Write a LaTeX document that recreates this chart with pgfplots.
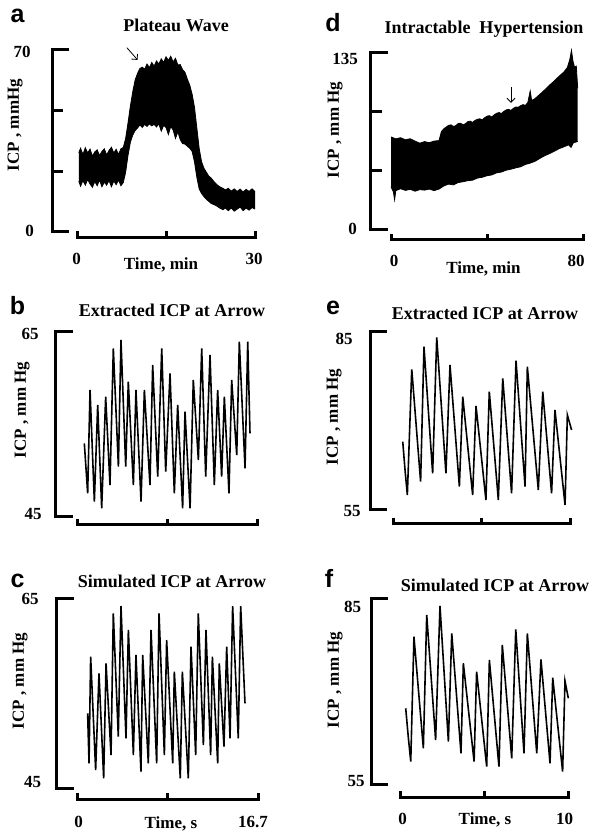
\documentclass[border=0pt]{standalone}
\usepackage{fontspec}
\setmainfont{Liberation Serif}
\newfontfamily\sansfont{Liberation Sans}
\usepackage{pgfplots}
\usepackage{pgfplotstable}
\pgfplotsset{compat=1.18}
\usepgfplotslibrary{fillbetween}
\usetikzlibrary{arrows.meta}

\newcommand{\tf}{\fontsize{17}{19}\selectfont\bfseries}
\newcommand{\ttl}{\fontsize{18}{20}\selectfont\bfseries}
\newcommand{\lf}{\fontsize{25}{27}\selectfont\sansfont\bfseries}

% #1 xmin #2 xmid #3 xmax #4 ymin #5 ymax #6 y-line shift #7 y-tick end #8 x-line shift #9 x-tick end
\newcommand{\brackets}[9]{%
  \draw[axln] ([xshift=#7]axis cs:#1,#5) -- ([xshift=#6]axis cs:#1,#5)
     -- ([xshift=#6]axis cs:#1,#4) -- ([xshift=#7]axis cs:#1,#4);
  \draw[axln] ([yshift=#9]axis cs:#1,#4) -- ([yshift=#8]axis cs:#1,#4)
     -- ([yshift=#8]axis cs:#3,#4) -- ([yshift=#9]axis cs:#3,#4);
  \draw[axln] ([yshift=#8]axis cs:#2,#4) -- ([yshift=#9]axis cs:#2,#4);
}

% plateau wave envelopes (min, mmHg)
\pgfplotstableread{
t v
0.3 30.5
0.6 32.2
1.0 29.8
1.4 32.4
1.8 30.4
2.2 31.9
2.6 29.2
3.0 30.8
3.4 31.6
3.8 29.4
4.2 31.0
4.6 32.0
5.0 29.6
5.4 31.4
5.8 32.6
6.2 30.4
6.6 31.8
7.0 29.8
7.4 32.0
7.8 32.5
8.2 36.0
8.6 42.0
9.0 48.5
9.4 54.0
9.8 58.5
10.2 61.0
10.6 62.9
11.0 63.4
11.4 62.6
11.8 64.6
12.2 63.2
12.6 65.2
13.0 63.8
13.4 65.8
13.8 64.6
14.2 66.6
14.6 65.2
15.0 67.4
15.4 66.0
15.8 67.6
16.2 65.4
16.6 66.8
17.0 64.2
17.4 64.4
17.8 62.4
18.2 61.4
18.6 58.8
19.0 56.5
19.4 53.0
19.8 48.0
20.2 40.0
20.6 32.0
21.0 27.0
21.4 24.5
21.8 23.0
22.2 21.5
22.6 20.8
23.0 19.6
23.4 18.6
23.8 17.8
24.2 17.2
24.6 16.8
25.0 16.2
25.5 16.8
26.0 15.7
26.5 16.6
27.0 15.6
27.5 16.5
28.0 15.4
28.5 16.4
29.0 15.6
29.5 16.6
30.0 15.5
}\aup
\pgfplotstableread{
t v
0.3 19.5
0.6 17.6
1.0 19.8
1.4 18.0
1.8 20.2
2.2 18.4
2.6 17.2
3.0 19.4
3.4 17.8
3.8 20.0
4.2 17.4
4.6 19.2
5.0 18.0
5.4 19.8
5.8 17.4
6.2 19.6
6.6 18.2
7.0 20.0
7.4 17.8
7.8 19.0
8.2 23.0
8.6 29.5
9.0 34.5
9.4 37.3
9.8 39.0
10.2 40.0
10.6 41.2
11.0 40.2
11.4 41.4
11.8 40.6
12.2 41.6
12.6 40.8
13.0 41.4
13.4 40.4
13.8 41.6
14.2 38.8
14.6 41.0
15.0 40.2
15.4 37.5
15.8 40.6
16.2 39.2
16.6 36.0
17.0 38.5
17.4 35.5
17.8 34.0
18.2 33.8
18.6 33.0
19.0 32.2
19.4 31.0
19.8 27.0
20.2 21.0
20.6 16.5
21.0 14.8
21.4 13.6
21.8 12.6
22.2 11.8
22.6 11.0
23.0 10.6
23.4 10.2
23.8 9.6
24.2 9.0
24.6 8.6
25.0 9.2
25.5 8.2
26.0 9.2
26.5 8.0
27.0 8.8
27.5 9.6
28.0 8.2
28.5 9.2
29.0 8.4
29.5 9.4
30.0 8.8
}\alo

% intractable hypertension envelopes (min, mmHg)
\pgfplotstableread{
t v
0 71.0
2 69.5
4 70.4
6 68.8
8 69.6
10 67.8
12 66.2
14 67.4
16 66.6
18 67.8
20 68.2
21 75.0
22 77.2
23 78.5
24 79.8
25 80.2
26 78.9
27 79.6
28 81.2
29 81.4
30 80.2
31 81.0
32 82.6
33 83.0
34 82.0
35 83.6
36 84.4
37 84.8
38 84.0
39 85.6
40 86.8
41 87.2
42 86.2
43 87.8
44 89.0
45 89.6
46 88.8
47 90.4
48 91.6
49 92.0
50 91.2
51 92.8
52 93.8
53 93.6
54 94.8
55 95.6
56 95.0
57 97.2
58 106.0
58.6 98.8
60 100.2
62 103.4
64 106.8
66 110.4
68 113.6
70 117.2
72 120.4
73.5 124.0
74.5 130.0
75.2 137.0
75.8 129.0
76.5 124.0
77.2 125.0
77.8 108.0
}\dup
\pgfplotstableread{
t v
0 33.0
1 29.0
1.5 23.0
2 30.0
4 31.5
6 30.2
8 31.0
10 29.6
12 30.8
14 30.4
16 31.2
18 30.0
20 31.2
22 33.6
24 35.0
26 34.4
28 36.2
30 36.8
32 37.6
34 38.0
36 39.6
38 40.2
40 41.4
42 42.0
44 43.6
46 44.2
48 45.6
50 46.4
52 47.4
54 48.2
56 50.0
58 51.0
60 52.4
62 54.6
64 56.6
66 58.2
68 60.0
70 62.0
72 63.4
74 65.0
75 63.0
76 66.5
77.8 67.5
}\dlo

% extracted / simulated ICP (s, mmHg)
\pgfplotstableread{
t v
0.68 52.96
0.99 47.56
1.21 58.73
1.61 46.66
1.92 57.11
2.29 45.94
2.66 58.01
3.06 48.46
3.37 63.23
3.84 50.44
4.08 64.14
4.52 50.44
4.76 59.63
5.23 48.46
5.47 58.73
5.94 46.66
6.25 58.73
6.77 48.46
7.02 61.43
7.49 49.36
7.86 63.23
8.23 49.90
8.63 60.53
9.03 47.56
9.34 57.11
9.80 45.94
10.02 56.39
10.49 45.94
10.79 59.81
11.26 51.16
11.57 63.23
11.94 49.36
12.34 62.51
12.74 48.46
13.05 58.73
13.42 49.36
13.67 58.01
14.10 47.56
14.35 59.81
14.82 51.70
15.06 63.96
15.59 50.26
15.84 63.96
16.05 54.05
}\bdat
\pgfplotstableread{
t v
0.98 52.97
1.11 47.70
1.26 58.93
1.72 47.00
2.03 57.18
2.46 46.12
2.68 58.23
3.14 48.58
3.35 63.49
3.81 50.51
4.06 64.26
4.52 50.33
4.74 61.74
5.20 48.58
5.44 59.11
5.90 46.82
6.06 59.11
6.58 47.70
6.83 61.74
7.35 47.70
7.57 63.49
8.06 48.58
8.27 60.68
8.83 47.70
8.98 57.35
9.53 46.12
9.72 57.35
10.27 46.12
10.52 59.98
10.95 48.58
11.19 63.49
11.66 49.63
11.90 61.74
12.33 48.58
12.49 58.93
12.98 47.70
13.13 58.23
13.56 49.46
13.81 59.98
14.12 50.33
14.36 64.26
14.88 50.33
15.10 64.26
15.50 54.02
}\cdat
\pgfplotstableread{
t v
0.55 66.52
0.68 61.74
0.81 57.53
1.06 78.71
1.56 59.78
1.75 82.53
2.24 61.18
2.47 84.10
2.99 61.18
3.22 79.44
3.75 58.94
3.94 74.10
4.50 57.53
4.69 72.53
5.25 56.69
5.44 74.95
5.95 56.69
6.20 77.19
6.70 57.81
6.95 80.17
7.46 58.94
7.59 79.16
8.21 58.37
8.46 74.95
8.96 57.81
9.15 71.86
9.72 55.85
9.85 71.01
10.09 68.49
}\edat
\pgfplotstableread{
t v
0.34 67.37
0.50 62.53
0.64 58.77
0.83 78.93
1.39 60.92
1.59 82.42
2.12 62.26
2.38 83.87
2.88 61.99
3.08 79.46
3.63 60.11
3.77 74.63
4.41 58.77
4.56 73.28
5.16 57.96
5.32 75.16
5.89 57.96
6.09 77.58
6.65 59.30
6.89 80.11
7.38 60.11
7.58 79.46
8.14 60.11
8.39 75.27
8.93 58.50
9.09 72.31
9.68 57.15
9.82 71.78
10.02 68.98
}\fdat

\begin{document}
\begin{tikzpicture}[axln/.style={line width=3pt, line join=miter}]
\pgfplotsset{panel/.style={hide axis, scale only axis, clip=false, anchor=south west},
  wave/.style={black, line width=1.6pt}}

% a
\begin{axis}[panel, at={(77pt,600pt)}, width=178pt, height=182pt,
  xmin=0, xmax=30, ymin=0, ymax=70]
\addplot[name path=au, draw=black, line width=0.8pt] table[x=t,y=v] {\aup};
\addplot[name path=al, draw=black, line width=0.8pt] table[x=t,y=v] {\alo};
\addplot[black] fill between[of=au and al];
\brackets{0}{15}{30}{0}{70}{-24.5pt}{-8.5pt}{-5.5pt}{0.5pt}
\draw[axln] ([xshift=-24.5pt]axis cs:0,23.33) -- ([xshift=-14.5pt]axis cs:0,23.33);
\draw[axln] ([xshift=-24.5pt]axis cs:0,46.67) -- ([xshift=-14.5pt]axis cs:0,46.67);
\draw[line width=0.8pt, -{Straight Barb[length=4pt]}] (axis cs:8.4,70.9) -- (axis cs:10.2,66.2);
\end{axis}

% d
\begin{axis}[panel, at={(391pt,602pt)}, width=192pt, height=177pt,
  xmin=0, xmax=80, ymin=0, ymax=135]
\addplot[name path=du, draw=black, line width=0.8pt] table[x=t,y=v] {\dup};
\addplot[name path=dl, draw=black, line width=0.8pt] table[x=t,y=v] {\dlo};
\addplot[black] fill between[of=du and dl];
\brackets{0}{40}{80}{0}{135}{-21pt}{-3pt}{-10pt}{-4pt}
\draw[axln] ([xshift=-21pt]axis cs:0,45) -- ([xshift=-9pt]axis cs:0,45);
\draw[axln] ([xshift=-21pt]axis cs:0,90) -- ([xshift=-9pt]axis cs:0,90);
\draw[line width=0.8pt, -{Straight Barb[length=4pt]}] (axis cs:50,109) -- (axis cs:50,97);
\end{axis}

% b
\begin{axis}[panel, at={(77pt,315pt)}, width=180pt, height=185pt,
  xmin=0, xmax=16.7, ymin=45, ymax=65]
\addplot[wave] table[x=t,y=v] {\bdat};
\brackets{0}{8.35}{16.7}{45}{65}{-21.5pt}{-4.5pt}{-8pt}{-2pt}
\end{axis}

% e
\begin{axis}[panel, at={(393pt,322pt)}, width=177pt, height=178pt,
  xmin=0, xmax=10, ymin=55, ymax=85]
\addplot[wave] table[x=t,y=v] {\edat};
\brackets{0}{5}{10}{55}{85}{-23pt}{-6pt}{-14pt}{-8pt}
\end{axis}

% c
\begin{axis}[panel, at={(77pt,43pt)}, width=181pt, height=190pt,
  xmin=0, xmax=16.7, ymin=45, ymax=65]
\addplot[wave] table[x=t,y=v] {\cdat};
\brackets{0}{8.35}{16.7}{45}{65}{-20.5pt}{-3.5pt}{-10.5pt}{-4.5pt}
\end{axis}

% f
\begin{axis}[panel, at={(400pt,47pt)}, width=168pt, height=186pt,
  xmin=0, xmax=10, ymin=55, ymax=85]
\addplot[wave] table[x=t,y=v] {\fdat};
\brackets{0}{5}{10}{55}{85}{-28.5pt}{-12.5pt}{-12.5pt}{-6.5pt}
\end{axis}

% panel letters
\node[anchor=base, inner sep=0] at (17.5pt,809pt) {\lf a};
\node[anchor=base, inner sep=0] at (333pt,800pt) {\lf d};
\node[anchor=base, inner sep=0] at (17.5pt,517pt) {\lf b};
\node[anchor=base, inner sep=0] at (333pt,517pt) {\lf e};
\node[anchor=base, inner sep=0] at (17.5pt,244pt) {\lf c};
\node[anchor=base, inner sep=0] at (329pt,244pt) {\lf f};

% titles
\node[anchor=base, inner sep=0] at (176pt,800.3pt) {\ttl Plateau Wave};
\node[anchor=base, inner sep=0] at (484pt,798.7pt) {\ttl Intractable\ \ Hypertension};
\node[anchor=base, inner sep=0] at (172pt,515.3pt) {\ttl Extracted ICP at Arrow};
\node[anchor=base, inner sep=0] at (485pt,512pt) {\ttl Extracted ICP at Arrow};
\node[anchor=base, inner sep=0] at (172pt,244pt) {\ttl Simulated ICP at Arrow};
\node[anchor=base, inner sep=0] at (495pt,240pt) {\ttl Simulated ICP at Arrow};

% y labels
\node[rotate=90, inner sep=0] at (15pt,707pt) {\tf ICP , mmHg};
\node[rotate=90, inner sep=0] at (335pt,702pt) {\tf ICP , mm Hg};
\node[rotate=90, inner sep=0] at (22pt,422pt) {\tf ICP , mm Hg};
\node[rotate=90, inner sep=0] at (334pt,415pt) {\tf ICP , mm Hg};
\node[rotate=90, inner sep=0] at (20pt,151pt) {\tf ICP , mm Hg};
\node[rotate=90, inner sep=0] at (335pt,152pt) {\tf ICP , mm Hg};

% tick labels and x labels
\node[anchor=base, inner sep=0] at (22pt,774pt) {\tf 70};
\node[anchor=base, inner sep=0] at (29.5pt,595pt) {\tf 0};
\node[anchor=base, inner sep=0] at (76.5pt,567pt) {\tf 0};
\node[anchor=base, inner sep=0] at (254pt,567pt) {\tf 30};
\node[anchor=base, inner sep=0] at (161pt,562pt) {\tf Time, min};

\node[anchor=base, inner sep=0] at (345pt,767pt) {\tf 135};
\node[anchor=base, inner sep=0] at (352.5pt,597pt) {\tf 0};
\node[anchor=base, inner sep=0] at (394pt,565pt) {\tf 0};
\node[anchor=base, inner sep=0] at (576pt,565pt) {\tf 80};
\node[anchor=base, inner sep=0] at (483.5pt,558pt) {\tf Time, min};

\node[anchor=base, inner sep=0] at (30pt,492pt) {\tf 65};
\node[anchor=base, inner sep=0] at (33pt,312pt) {\tf 45};
\node[anchor=base, inner sep=0] at (344pt,487pt) {\tf 85};
\node[anchor=base, inner sep=0] at (352pt,315pt) {\tf 55};

\node[anchor=base, inner sep=0] at (30pt,227pt) {\tf 65};
\node[anchor=base, inner sep=0] at (32.5pt,44pt) {\tf 45};
\node[anchor=base, inner sep=0] at (78.5pt,5pt) {\tf 0};
\node[anchor=base, inner sep=0] at (253pt,5pt) {\tf 16.7};
\node[anchor=base, inner sep=0] at (171pt,4pt) {\tf Time, s};

\node[anchor=base, inner sep=0] at (352.5pt,219pt) {\tf 85};
\node[anchor=base, inner sep=0] at (356pt,45pt) {\tf 55};
\node[anchor=base, inner sep=0] at (402.5pt,7pt) {\tf 0};
\node[anchor=base, inner sep=0] at (564.5pt,7pt) {\tf 10};
\node[anchor=base, inner sep=0] at (485pt,8pt) {\tf Time, s};

\pgfresetboundingbox
\path[use as bounding box] (0pt,0pt) rectangle (593pt,832pt);
\end{tikzpicture}
\end{document}
